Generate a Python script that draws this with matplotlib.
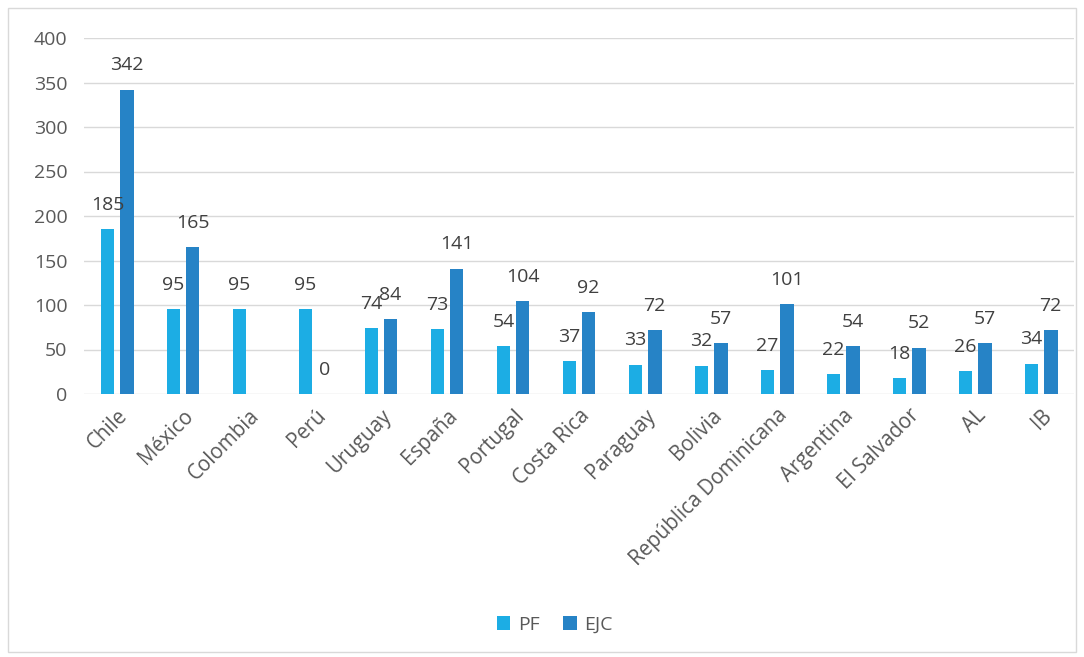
import numpy as np
import matplotlib.pyplot as plt
from matplotlib.patches import Rectangle

# data
paises = ['Chile', 'México', 'Colombia', 'Perú', 'Uruguay', 'España', 'Portugal',
          'Costa Rica', 'Paraguay', 'Bolivia', 'República Dominicana', 'Argentina',
          'El Salvador', 'AL', 'IB']
pf = [185, 95, 95, 95, 74, 73, 54, 37, 33, 32, 27, 22, 18, 26, 34]
ejc = [342, 165, np.nan, 0, 84, 141, 104, 92, 72, 57, 101, 54, 52, 57, 72]

plt.rcParams['font.family'] = ['Open Sans', 'DejaVu Sans']

fig = plt.figure(figsize=(10.84, 6.57), dpi=100)
ax = fig.add_axes([84/1084, 1-394/657, (1074-84)/1084, (394-38)/657])

x = np.arange(len(paises))
w = 0.21
off = 0.145
ax.bar(x - off, pf, w, color='#1CADE4', label='PF', zorder=3)
ax.bar(x + off, ejc, w, color='#2683C6', label='EJC', zorder=3)

for xi, v in zip(x, pf):
    ax.annotate(str(v), (xi - off, v), xytext=(0, 11), textcoords='offset points',
                ha='center', va='bottom', fontsize=14, color='#404040')
for xi, v in zip(x, ejc):
    if np.isnan(v):
        continue
    ax.annotate(str(int(v)), (xi + off, v), xytext=(0, 11), textcoords='offset points',
                ha='center', va='bottom', fontsize=14, color='#404040')

ax.set_xlim(-0.5, len(paises) - 0.5)
ax.set_ylim(0, 400)
ax.set_yticks(range(0, 401, 50))
ax.yaxis.grid(True, color='#D9D9D9', linewidth=1, zorder=0)
for s in ax.spines.values():
    s.set_visible(False)
ax.tick_params(length=0, labelsize=14, colors='#595959', pad=12)
ax.set_xticks(x)
ax.set_xticklabels(paises, rotation=45, ha='right', rotation_mode='anchor', fontsize=14.8)
ax.tick_params(axis='x', pad=8)

leg = fig.legend(loc='center', bbox_to_anchor=(555/1084, 1-625/657), ncol=2,
                 frameon=False, fontsize=14, handlelength=0.7, handleheight=0.7,
                 columnspacing=1.2, handletextpad=0.4)
for t in leg.get_texts():
    t.set_color('#595959')

fig.patches.append(Rectangle((8/1084, 1-652/657), 1068/1084, 644/657,
                             transform=fig.transFigure, fill=False,
                             edgecolor='#D9D9D9', linewidth=1))

fig.savefig('out.png', dpi=100)
